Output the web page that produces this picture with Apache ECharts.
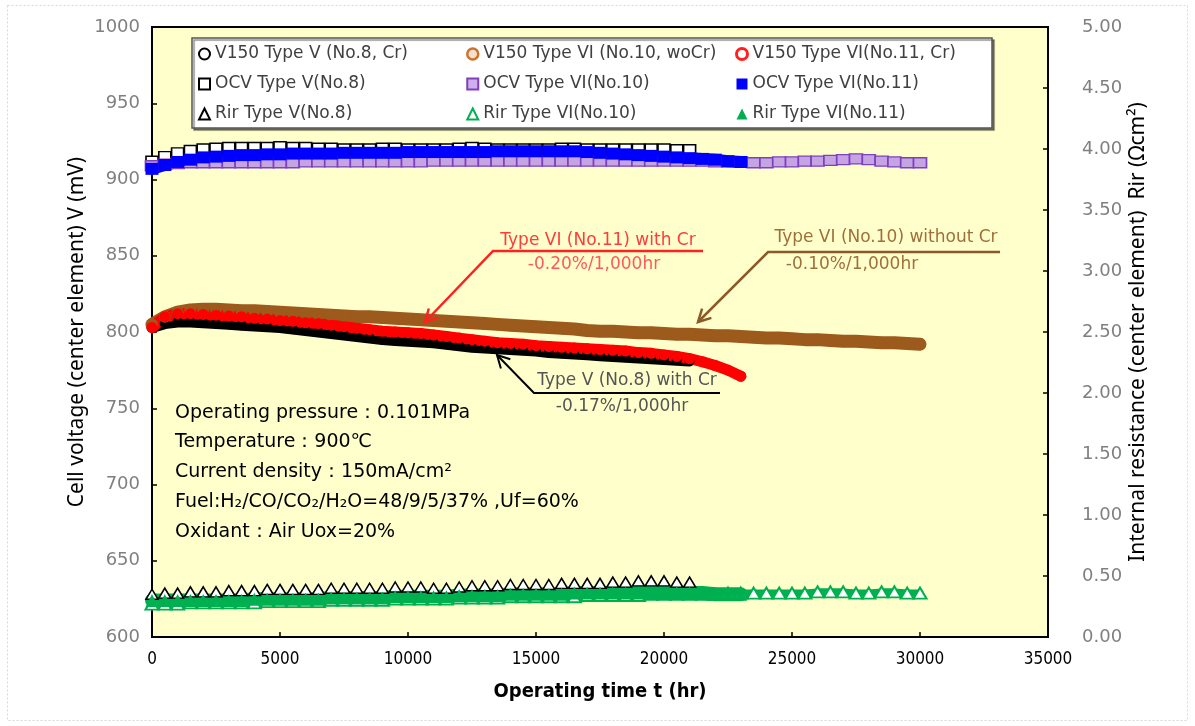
<!DOCTYPE html>
<html><head><meta charset="utf-8">
<script src="https://cdn.jsdelivr.net/npm/echarts@6/dist/echarts.min.js"></script>
<style>html,body{margin:0;padding:0;background:#fff}#c{width:1195px;height:726px}</style>
</head><body><div id="c"></div>
<script>
// ---- tick labels ----
const xTicks = [0,5000,10000,15000,20000,25000,30000,35000];
const vTicks = [600,650,700,750,800,850,900,950,1000];
const rTicks = [0,0.5,1,1.5,2,2.5,3,3.5,4,4.5,5];

// ---- operating times (hr) ----
const tNo8 = [0,500,1000,1500,2000,2500,3000,3500,4000,4500,
  5000,5500,6000,6500,7000,7500,8000,8500,9000,9500,
  10000,10500,11000,11500,12000,12500,13000,13500,14000,14500,
  15000,15500,16000,16500,17000,17500,18000,18500,19000,19500,
  20000,20500,21000];
const tNo10 = [0,500,1000,1500,2000,2500,3000,3500,4000,4500,
  5000,5500,6000,6500,7000,7500,8000,8500,9000,9500,
  10000,10500,11000,11500,12000,12500,13000,13500,14000,14500,
  15000,15500,16000,16500,17000,17500,18000,18500,19000,19500,
  20000,20500,21000,21500,22000,22500,23000,23500,24000,24500,
  25000,25500,26000,26500,27000,27500,28000,28500,29000,29500,
  30000];
const tNo11 = [0,500,1000,1500,2000,2500,3000,3500,4000,4500,
  5000,5500,6000,6500,7000,7500,8000,8500,9000,9500,
  10000,10500,11000,11500,12000,12500,13000,13500,14000,14500,
  15000,15500,16000,16500,17000,17500,18000,18500,19000,19500,
  20000,20500,21000,21500,22000,22500,23000];

// ---- cell voltage V150 (mV) ----
const v150No8 = [803,805.5,806.5,806.5,806,805.5,805,804.5,804,803.5,
  803,802,801,800,799,798,797,796,795,794.5,
  794,793.5,793,792,791,790,789.5,789,788.5,788,
  787.5,786.5,786,785.5,785,784.5,784,783.5,783,782.5,
  782,781.5,781];
const v150No10 = [805,810,813,814.5,815,815,814.5,814,814,813.5,
  813,812.5,812,811.5,811,810.5,810,810,809.5,809,
  808.5,808,807.5,807,806.5,806,805.5,805,804.5,804,
  803.5,803,802.5,802,801,800.5,800.5,800,799.5,799.5,
  799,798.5,798.5,798,797.5,797.5,797,796.5,796,796,
  795.5,795,795,794.5,794,794,793.5,793,793,792.5,
  792];
const v150No11 = [803,810,812,812,811.5,811,810.5,810,809,808.5,
  807.5,807,806,805.5,804.5,803.5,802.5,801.5,800.5,800,
  799.5,799,798,797,796,795,794,793,792.5,792,
  791,790.5,790,789.5,789,788.5,788,787.5,786.5,786,
  785,784,782.5,780.5,778,775,771];

// ---- OCV (mV) ----
const ocvNo8 = [912,915,917.5,919,920,920.5,921,921,921,921,
  921.5,921,921,920.5,920.5,920,920,920,920.5,920.5,
  920,920,920,920,920.5,921,920.5,920,920,920,
  920,920,920.5,920.5,920,920,920,920,920,920,
  920,919.5,919.5];
const ocvNo10 = [909,910,910.5,911,911,911,911,911,911,911,
  911,911,911.5,911.5,911.5,911.5,911.5,911.5,911.5,911.5,
  911.5,911.5,912,912,912,912,912,912,912,912,
  912,912,912,912,912,912,912,912,912,912,
  912,912,912,912,911.5,911.5,911.5,911,911,911.5,
  911.5,912,912,912.5,913,913.5,913,912,911.5,911,
  911];
const ocvNo11 = [907,909.5,911.5,913,914.5,915,915.5,916,916,916.5,
  916.5,917,917,917,917,917.5,917.5,917.5,917.5,917.5,
  918,918,918,918,918,918,918,918.5,918.5,918.5,
  918.5,918.5,918.5,918.5,918,917.5,917,916.5,916,915.5,
  915,914.5,914,913.5,913,912,911.5];

// ---- internal resistance Rir (Ohm cm2) ----
const rirNo8 = [0.35,0.36,0.36,0.37,0.37,0.37,0.38,0.38,0.38,0.39,
  0.39,0.39,0.39,0.39,0.40,0.40,0.40,0.40,0.40,0.41,
  0.41,0.41,0.40,0.40,0.41,0.42,0.42,0.42,0.43,0.43,
  0.43,0.43,0.44,0.44,0.44,0.44,0.45,0.45,0.46,0.46,
  0.46,0.45,0.45];
const rirNo10 = [0.27,0.27,0.27,0.28,0.28,0.28,0.28,0.28,0.28,0.29,
  0.29,0.29,0.29,0.29,0.30,0.30,0.30,0.30,0.30,0.31,
  0.31,0.31,0.31,0.31,0.32,0.32,0.32,0.32,0.33,0.33,
  0.33,0.33,0.33,0.33,0.34,0.34,0.34,0.34,0.34,0.35,
  0.35,0.35,0.35,0.35,0.35,0.36,0.36,0.36,0.36,0.36,
  0.36,0.36,0.37,0.37,0.37,0.36,0.36,0.37,0.37,0.36,
  0.36];
const rirNo11 = [0.30,0.30,0.30,0.30,0.30,0.30,0.30,0.30,0.31,0.31,
  0.31,0.31,0.31,0.31,0.32,0.32,0.32,0.32,0.32,0.33,
  0.33,0.33,0.33,0.33,0.34,0.34,0.34,0.34,0.35,0.35,
  0.35,0.35,0.35,0.36,0.36,0.36,0.36,0.36,0.36,0.36,
  0.36,0.36,0.36,0.36,0.35,0.35,0.35];

const names = ['V150 Type V (No.8, Cr)','V150 Type VI (No.10, woCr)','V150 Type VI(No.11, Cr)',
  'OCV Type V(No.8)','OCV Type VI(No.10)','OCV Type VI(No.11)',
  'Rir Type V(No.8)','Rir Type VI(No.10)','Rir Type VI(No.11)'];

function pts(t, v){ return t.map((x,i)=>[x, v[i]]); }

const BROWN = '#9C5A1C', RED = '#FF0000', BLUE = '#0000FF', GREEN = '#00B050', PURPLE = '#7F3FBF';

function band(name, t, v, axis, color, width, symbol, size, itemStyle){
  return {name, type:'line', yAxisIndex:axis, data:pts(t,v), symbol, symbolSize:size,
    showAllSymbol:true, animation:false, silent:true,
    lineStyle:{color, width, cap:'round', join:'round', opacity: width>0?1:0},
    itemStyle: itemStyle || {color}};
}

const series = [
  band(names[0], tNo8, v150No8, 0, '#000', 11, 'circle', 10),
  band(names[1], tNo10, v150No10, 0, BROWN, 13, 'circle', 12),
  band(names[2], tNo11, v150No11, 0, RED, 11, 'circle', 11),
  band(names[3], tNo8, ocvNo8, 0, '#000', 0, 'rect', [12,10], {color:'#fff', borderColor:'#000', borderWidth:1.5}),
  band(names[4], tNo10, ocvNo10, 0, PURPLE, 0, 'rect', [13,10], {color:'#C4A4E2', borderColor:PURPLE, borderWidth:1.5}),
  band(names[5], tNo11, ocvNo11, 0, BLUE, 12, 'rect', [13,12], {color:BLUE}),
  band(names[6], tNo8, rirNo8, 1, '#000', 0, 'triangle', [12,10], {color:'#fff', borderColor:'#000', borderWidth:1.5}),
  band(names[7], tNo10, rirNo10, 1, GREEN, 7, 'triangle', [13,11], {color:'#fff', borderColor:GREEN, borderWidth:2}),
  band(names[8], tNo11, rirNo11, 1, GREEN, 14, 'triangle', [13,13], {color:GREEN})
];

const legendIcons = [
  {icon:'circle', itemStyle:{color:'#fff', borderColor:'#000', borderWidth:2}},
  {icon:'circle', itemStyle:{color:'#F6DEC8', borderColor:'#C8742F', borderWidth:2.5}},
  {icon:'circle', itemStyle:{color:'#fff', borderColor:'#FF2020', borderWidth:3}},
  {icon:'rect', itemStyle:{color:'#fff', borderColor:'#000', borderWidth:2}},
  {icon:'rect', itemStyle:{color:'#D0B0EC', borderColor:PURPLE, borderWidth:2}},
  {icon:'rect', itemStyle:{color:BLUE, borderColor:BLUE, borderWidth:0}},
  {icon:'triangle', itemStyle:{color:'#fff', borderColor:'#000', borderWidth:2}},
  {icon:'triangle', itemStyle:{color:'#fff', borderColor:GREEN, borderWidth:2}},
  {icon:'triangle', itemStyle:{color:GREEN, borderColor:GREEN, borderWidth:0}}
];
function legendCol(idx, left){
  return {orient:'vertical', left, top:45, padding:0, itemWidth:11, itemHeight:11, itemGap:12,
    selectedMode:false, z:6,
    textStyle:{color:'#404040', fontFamily:'DejaVu Sans', fontSize:17, lineHeight:18},
    data: idx.map(i=>Object.assign({name:names[i]}, legendIcons[i]))};
}

function head(tip, from, len, angDeg){
  const dx = from[0]-tip[0], dy = from[1]-tip[1], L = Math.hypot(dx,dy);
  const ux = dx/L, uy = dy/L, a = angDeg*Math.PI/180, c = Math.cos(a), s = Math.sin(a);
  return [[tip[0]+len*(ux*c-uy*s), tip[1]+len*(ux*s+uy*c)], tip,
          [tip[0]+len*(ux*c+uy*s), tip[1]+len*(-ux*s+uy*c)]];
}
function arrowLine(points, color, w){
  const n = points.length;
  return [
    {type:'polyline', z:7, shape:{points}, style:{stroke:color, lineWidth:w, fill:null}},
    {type:'polyline', z:7, shape:{points:head(points[n-1], points[n-2], 14, 28)}, style:{stroke:color, lineWidth:w, fill:null}}
  ];
}
function txt(x, y, text, color, size, align){
  return {type:'text', z:7, x, y, style:{text, fill:color, font: size+'px "DejaVu Sans"', align: align||'center', verticalAlign:'middle'}};
}

const graphic = [
  {type:'rect', z:0, shape:{x:7.5,y:5.5,width:1180,height:715}, style:{fill:null, stroke:'#d8d8d8', lineWidth:1, lineDash:[2,2]}},
  {type:'rect', z:5, shape:{x:192,y:38,width:800,height:90}, style:{fill:'#fff', stroke:'#555', lineWidth:1.5, shadowColor:'rgba(0,0,0,0.45)', shadowOffsetX:2, shadowOffsetY:2, shadowBlur:1}},
  ...arrowLine([[703,251],[493,251],[425,322]], '#FF2020', 2.5),
  ...arrowLine([[1000,252],[768,252],[698,322]], '#8B5A2B', 2.5),
  ...arrowLine([[720,393],[534,393],[497,355]], '#000', 2),
  txt(598, 241, 'Type VI (No.11) with Cr', '#FF3B3B', 17),
  txt(594, 265, '-0.20%/1,000hr', '#FF5A5A', 17),
  txt(886, 238, 'Type VI (No.10) without Cr', '#A0703C', 17),
  txt(852, 265, '-0.10%/1,000hr', '#A0703C', 17),
  txt(627, 381, 'Type V (No.8) with Cr', '#555', 17),
  txt(622, 407, '-0.17%/1,000hr', '#555', 17),
  txt(175, 413, 'Operating pressure：0.101MPa', '#000', 19, 'left'),
  txt(175, 442, 'Temperature：900℃', '#000', 19, 'left'),
  txt(175, 472, 'Current density：150mA/cm²', '#000', 19, 'left'),
  txt(175, 502, 'Fuel:H₂/CO/CO₂/H₂O=48/9/5/37% ,Uf=60%', '#000', 19, 'left'),
  txt(175, 532, 'Oxidant：Air Uox=20%', '#000', 19, 'left')
];

const axisFont = 'DejaVu Sans';
const condFont = '"DejaVu Sans Condensed", "Liberation Sans Narrow", "Liberation Sans"';
const option = {
  animation:false,
  backgroundColor:'#fff',
  grid:{left:152, right:147, top:27, bottom:89, show:true, backgroundColor:'#FFFFCC', borderColor:'#000', borderWidth:2},
  legend:[legendCol([0,3,6],198), legendCol([1,4,7],466), legendCol([2,5,8],735)],
  xAxis:{type:'value', min:xTicks[0], max:xTicks[xTicks.length-1], interval:xTicks[1]-xTicks[0],
    axisLine:{show:true, onZero:false, lineStyle:{color:'#000', width:2}},
    axisTick:{show:true, inside:true, length:5, lineStyle:{color:'#000', width:1.5}},
    axisLabel:{color:'#000', fontFamily:condFont, fontSize:17, margin:14, formatter:v=>String(v)},
    splitLine:{show:false},
    name:'Operating time t (hr)', nameLocation:'middle', nameGap:45, nameMoveOverlap:false,
    nameTextStyle:{color:'#000', fontFamily:condFont, fontWeight:'bold', fontSize:20}},
  yAxis:[
    {type:'value', min:vTicks[0], max:vTicks[vTicks.length-1], interval:vTicks[1]-vTicks[0], position:'left',
      axisLine:{show:true, lineStyle:{color:'#000', width:2}},
      axisTick:{show:true, inside:true, length:5, lineStyle:{color:'#000', width:1.5}},
      axisLabel:{color:'#808080', fontFamily:axisFont, fontSize:18, margin:12, formatter:v=>String(v)},
      splitLine:{show:false},
      name:'Cell voltage (center element) V (mV)', nameLocation:'middle', nameGap:64, nameMoveOverlap:false,
      nameTextStyle:{color:'#000', fontFamily:'"Noto Sans"', fontSize:21}},
    {type:'value', min:rTicks[0], max:rTicks[rTicks.length-1], interval:rTicks[1]-rTicks[0], position:'right',
      axisLine:{show:true, lineStyle:{color:'#000', width:2}},
      axisTick:{show:true, inside:true, length:5, lineStyle:{color:'#000', width:1.5}},
      axisLabel:{color:'#808080', fontFamily:axisFont, fontSize:18, margin:34, formatter:v=>v.toFixed(2)},
      splitLine:{show:false},
      name:'Internal resistance (center element)  Rir (Ωcm²)', nameLocation:'middle', nameGap:80, nameMoveOverlap:false,
      nameTextStyle:{color:'#000', fontFamily:'"Noto Sans"', fontSize:21}}
  ],
  graphic,
  series
};
const chart = echarts.init(document.getElementById('c'), null, {renderer:'canvas'});
chart.setOption(option);
</script>
</body></html>
